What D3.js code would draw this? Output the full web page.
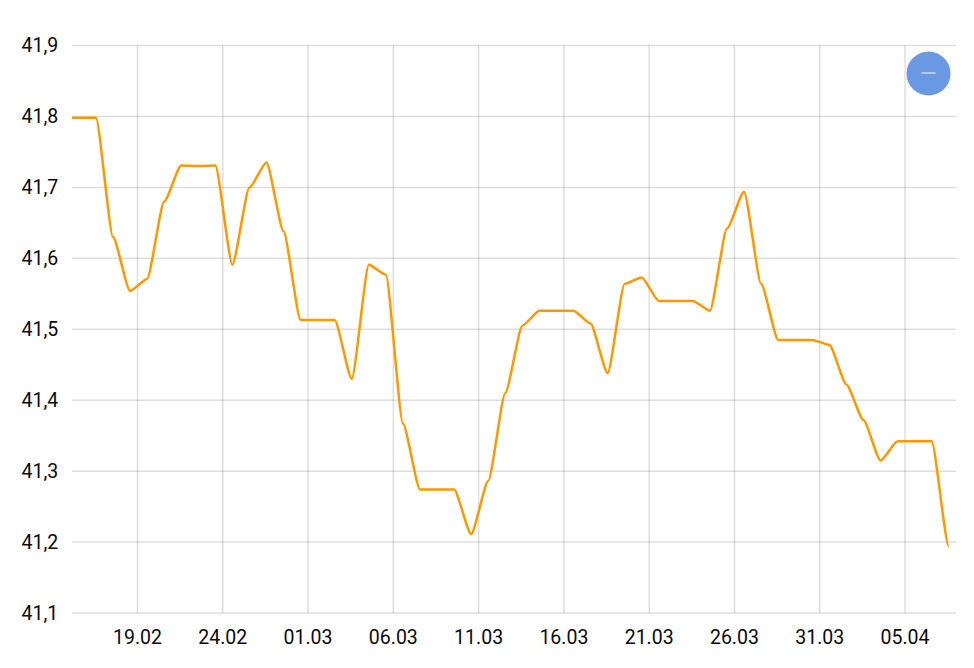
<!DOCTYPE html>
<html>
<head>
<meta charset="utf-8">
<style>
    html, body { margin: 0; padding: 0; background: #fff; }
    text { font-family: Roboto, sans-serif; font-size: 19.5px; fill: #0a0a0a; }
    .grid line { stroke: #000; stroke-opacity: 0.13; stroke-width: 1.5; }
</style>
<script src="https://cdn.jsdelivr.net/npm/d3@7"></script>
</head>
<body>
<svg id="chart" width="974" height="668"></svg>
<script>
// one value per day, the first is cut off by the left edge of the plot
var firstDay = '2021-02-14T13:30:00Z';
var values = [
    41.798, 41.798, 41.798, 41.630, 41.554, 41.571, 41.680, 41.731, 41.730, 41.731,
    41.591, 41.700, 41.735, 41.638, 41.513, 41.513, 41.513, 41.430, 41.591, 41.577,
    41.367, 41.274, 41.274, 41.274, 41.211, 41.286, 41.410, 41.505, 41.526, 41.526,
    41.526, 41.508, 41.438, 41.564, 41.573, 41.540, 41.540, 41.540, 41.526, 41.642,
    41.694, 41.564, 41.485, 41.485, 41.485, 41.478, 41.422, 41.372, 41.315, 41.342,
    41.342, 41.342, 41.194
];
var xTicks = ['2021-02-19', '2021-02-24', '2021-03-01', '2021-03-06', '2021-03-11',
    '2021-03-16', '2021-03-21', '2021-03-26', '2021-03-31', '2021-04-05'];
var yTicks = [41.1, 41.2, 41.3, 41.4, 41.5, 41.6, 41.7, 41.8, 41.9];

var plot = { left: 72, right: 956, top: 45.5, bottom: 613 };
var svg = d3.select('#chart');

var start = new Date(firstDay);
var points = values.map(function(v, i) {
    return { date: d3.utcDay.offset(start, i), value: v };
});

var x = d3.scaleUtc()
    .domain([new Date('2021-02-19T00:00:00Z'), new Date('2021-04-05T00:00:00Z')])
    .range([137.5, 905]);
var y = d3.scaleLinear()
    .domain([41.1, 41.9])
    .range([plot.bottom, plot.top]);

var formatDay = d3.utcFormat('%d.%m');
var formatValue = function(d) { return d3.format('.1f')(d).replace('.', ','); };
var tickDates = xTicks.map(function(d) { return new Date(d + 'T00:00:00Z'); });

// straight runs with a tight bend at each point
function tightCurve(context) {
    var x0, y0, started;
    return {
        lineStart: function() { started = false; },
        lineEnd: function() {},
        point: function(px, py) {
            if (!started) {
                context.moveTo(px, py);
                started = true;
            } else {
                var h = (px - x0) * 0.2;
                context.bezierCurveTo(x0 + h, y0, px - h, py, px, py);
            }
            x0 = px;
            y0 = py;
        }
    };
}

// grid
var grid = svg.append('g').attr('class', 'grid');
grid.selectAll('line.h')
    .data(yTicks)
    .enter()
    .append('line')
        .attr('class', 'h')
        .attr('x1', plot.left)
        .attr('x2', plot.right)
        .attr('y1', function(d) { return y(d); })
        .attr('y2', function(d) { return y(d); });
grid.selectAll('line.v')
    .data(tickDates)
    .enter()
    .append('line')
        .attr('class', 'v')
        .attr('x1', function(d) { return x(d); })
        .attr('x2', function(d) { return x(d); })
        .attr('y1', plot.top)
        .attr('y2', plot.bottom);

// tick labels
svg.selectAll('text.ylabel')
    .data(yTicks)
    .enter()
    .append('text')
        .attr('class', 'ylabel')
        .attr('x', 21.5)
        .attr('y', function(d) { return y(d) + 6.5; })
        .text(formatValue);
svg.selectAll('text.xlabel')
    .data(tickDates)
    .enter()
    .append('text')
        .attr('class', 'xlabel')
        .attr('x', function(d) { return x(d); })
        .attr('y', 644)
        .attr('text-anchor', 'middle')
        .text(formatDay);

// line
svg.append('clipPath')
    .attr('id', 'plot-clip')
    .append('rect')
        .attr('x', plot.left)
        .attr('y', 0)
        .attr('width', plot.right - plot.left)
        .attr('height', 668);

var line = d3.line()
    .x(function(d) { return x(d.date); })
    .y(function(d) { return y(d.value); })
    .curve(tightCurve);

svg.append('path')
    .datum(points)
    .attr('clip-path', 'url(#plot-clip)')
    .attr('fill', 'none')
    .attr('stroke', '#ff9800')
    .attr('stroke-width', 2.5)
    .attr('d', line);

// zoom out button
var button = svg.append('g').attr('transform', 'translate(928.5,73.5)');
button.append('circle').attr('r', 22).attr('fill', '#6b98e2');
button.append('line')
    .attr('x1', -7)
    .attr('x2', 7)
    .attr('y1', -0.5)
    .attr('y2', -0.5)
    .attr('stroke', '#fff')
    .attr('stroke-width', 1);
</script>
</body>
</html>
